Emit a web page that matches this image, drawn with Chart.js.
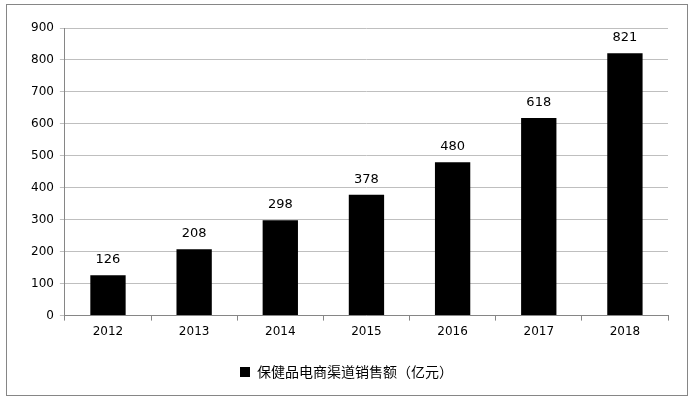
<!DOCTYPE html>
<html><head><meta charset="utf-8">
<script src="https://cdn.jsdelivr.net/npm/chart.js@4"></script>
<style>body{margin:0;background:#fff}canvas{display:block}</style>
</head><body>
<canvas id="c" width="694" height="400"></canvas>
<script>
const categories = ["2012","2013","2014","2015","2016","2017","2018"];
const salesValues = [126,208,298,378,480,618,821];
const seriesName = "保健品电商渠道销售额（亿元）";
const yTicks = [0,100,200,300,400,500,600,700,800,900];

const frame = {id:'frame', afterDraw(ch){const c=ch.ctx;c.save();c.strokeStyle='#868686';c.lineWidth=1;c.strokeRect(6.5,4.5,681,391);c.restore();}};
const labels = {id:'labels', afterDatasetsDraw(ch){const c=ch.ctx;c.save();c.font='13px "DejaVu Sans", sans-serif';c.fillStyle='#000';c.textAlign='center';c.textBaseline='bottom';
 ch.getDatasetMeta(0).data.forEach((b,i)=>c.fillText(salesValues[i],b.x,b.y-9));c.restore();}};

new Chart(document.getElementById('c'),{
 type:'bar',
 data:{labels:categories,datasets:[{label:seriesName,data:salesValues,backgroundColor:'#000',barPercentage:0.41,categoryPercentage:1}]},
 options:{responsive:false,animation:false,
  layout:{padding:{top:28,right:26,left:25,bottom:11}},
  plugins:{legend:{position:'bottom',labels:{color:'#000',boxWidth:10,boxHeight:10,padding:22,font:{family:'"Noto Sans CJK SC", sans-serif',size:14}}},tooltip:{enabled:false}},
  scales:{
   x:{grid:{drawOnChartArea:false,drawTicks:true,tickLength:5,color:'#868686',offset:true},border:{color:'#868686'},ticks:{color:'#000',font:{family:'"DejaVu Sans", sans-serif',size:12},padding:4}},
   y:{min:0,max:900,afterBuildTicks(a){a.ticks=yTicks.map(v=>({value:v}));},grid:{color:'#bfbfbf',tickLength:5},border:{color:'#868686'},ticks:{color:'#000',font:{family:'"DejaVu Sans", sans-serif',size:12},padding:6}}
  }},
 plugins:[frame,labels]
});
</script>
</body></html>
